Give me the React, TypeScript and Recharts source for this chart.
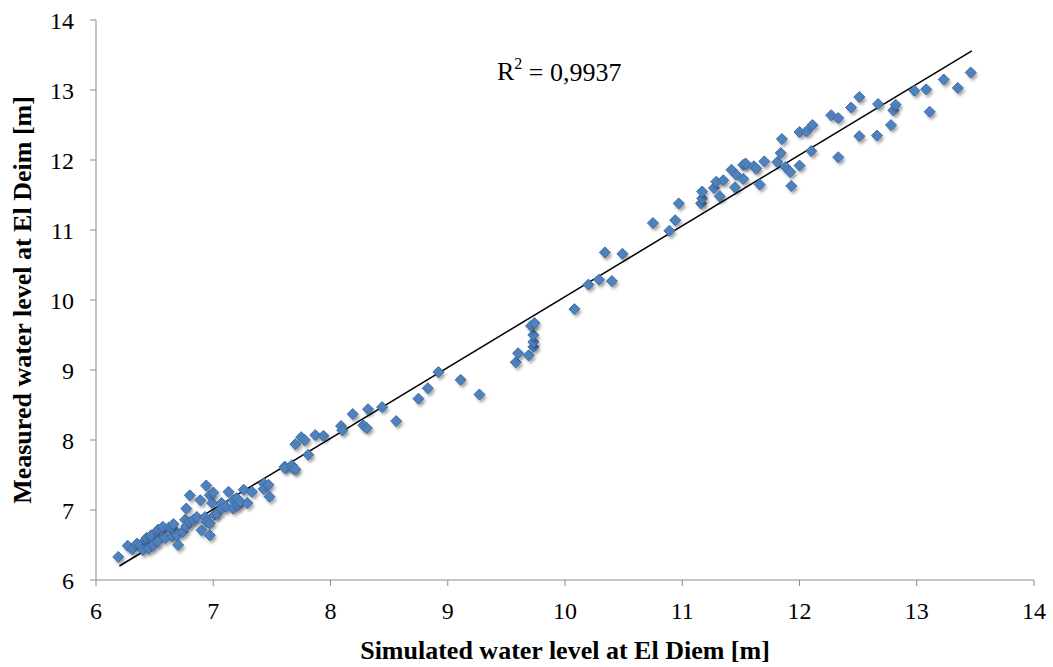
import { ScatterChart, Scatter, XAxis, YAxis, ReferenceLine, ReferenceDot } from 'recharts';

const simulated = [
  6.19, 6.27, 6.31, 6.35, 6.38, 6.40, 6.42, 6.43, 6.45, 6.46, 6.47, 6.49, 6.52, 6.53, 6.53, 6.56,
  6.57, 6.59, 6.62, 6.65, 6.65, 6.66, 6.69, 6.70, 6.74, 6.76, 6.77, 6.77, 6.80, 6.80, 6.83, 6.86,
  6.89, 6.90, 6.93, 6.94, 6.94, 6.97, 6.97, 6.97, 6.99, 7.00, 7.01, 7.03, 7.07, 7.07, 7.11, 7.13,
  7.17, 7.17, 7.20, 7.21, 7.23, 7.26, 7.29, 7.33, 7.43, 7.43, 7.47, 7.48, 7.61, 7.61, 7.67, 7.68,
  7.70, 7.70, 7.75, 7.78, 7.81, 7.87, 7.94, 8.09, 8.10, 8.19, 8.28, 8.31, 8.32, 8.44, 8.56, 8.75,
  8.83, 8.92, 9.11, 9.27, 9.58, 9.60, 9.69, 9.73, 9.73, 9.73, 9.71, 9.74, 10.08, 10.20, 10.29, 10.40,
  10.34, 10.49, 10.75, 10.89, 10.94, 10.97, 11.16, 11.17, 11.17, 11.27, 11.32, 11.29, 11.35, 11.42,
  11.46, 11.45, 11.52, 11.52, 11.54, 11.61, 11.63, 11.66, 11.70, 11.81, 11.84, 11.85, 11.88, 11.92,
  11.93, 12.00, 12.00, 12.06, 12.11, 12.10, 12.27, 12.33, 12.33, 12.44, 12.51, 12.51, 12.66, 12.67,
  12.78, 12.80, 12.82, 12.98, 13.08, 13.11, 13.23, 13.35, 13.46,
];
const measured = [
  6.33, 6.49, 6.44, 6.52, 6.50, 6.43, 6.57, 6.60, 6.45, 6.61, 6.64, 6.50, 6.69, 6.55, 6.72, 6.71,
  6.76, 6.60, 6.75, 6.62, 6.74, 6.80, 6.64, 6.50, 6.69, 6.86, 7.02, 6.77, 7.21, 6.83, 6.86, 6.90,
  7.14, 6.71, 6.90, 7.35, 6.83, 7.21, 6.64, 6.81, 7.10, 7.25, 6.93, 6.95, 7.10, 7.02, 7.05, 7.26,
  7.14, 7.02, 7.17, 7.07, 7.12, 7.29, 7.10, 7.26, 7.38, 7.30, 7.36, 7.19, 7.62, 7.60, 7.64, 7.60,
  7.58, 7.94, 8.04, 8.00, 7.79, 8.07, 8.06, 8.20, 8.14, 8.37, 8.21, 8.17, 8.44, 8.47, 8.27, 8.59,
  8.74, 8.97, 8.86, 8.65, 9.11, 9.24, 9.21, 9.33, 9.40, 9.50, 9.63, 9.67, 9.87, 10.22, 10.29, 10.27,
  10.68, 10.66, 11.10, 10.99, 11.14, 11.38, 11.38, 11.45, 11.55, 11.60, 11.48, 11.69, 11.71, 11.86,
  11.79, 11.61, 11.73, 11.93, 11.95, 11.91, 11.88, 11.65, 11.98, 11.97, 12.10, 12.30, 11.90, 11.83,
  11.63, 11.92, 12.40, 12.41, 12.50, 12.13, 12.64, 12.60, 12.04, 12.75, 12.90, 12.34, 12.35, 12.80,
  12.50, 12.71, 12.79, 12.99, 13.01, 12.69, 13.15, 13.03, 13.25,
];

// linear trendline end points
const trendX = [6.2, 13.47];
const trendY = [6.2, 13.56];

const axisTicks = [6, 7, 8, 9, 10, 11, 12, 13, 14];
const r2Text = '0,9937';

const points = simulated.map((x, i) => ({ x, y: measured[i] }));

const serif = '"Liberation Serif", "Times New Roman", serif';
const axisGray = '#8c8c8c';

const Diamond = (props: any) => {
  const { cx, cy } = props;
  if (cx == null || cy == null) return null;
  const s = 5.5;
  const pts = `${cx},${cy - s} ${cx + s},${cy} ${cx},${cy + s} ${cx - s},${cy}`;
  const shadow = `${cx + 2},${cy - s + 3} ${cx + s + 2},${cy + 3} ${cx + 2},${cy + s + 3} ${cx - s + 2},${cy + 3}`;
  return (
    <g>
      <polygon points={shadow} fill="rgba(0,0,0,0.35)" filter="url(#markerShadow)" />
      <polygon points={pts} fill="#4f81bd" stroke="#3d6ea8" strokeWidth={1} />
    </g>
  );
};

const YTitle = (props: any) => {
  const { viewBox } = props;
  const cy = viewBox.y + viewBox.height / 2;
  return (
    <text
      x={22}
      y={cy}
      transform={`rotate(-90, 22, ${cy})`}
      textAnchor="middle"
      dominantBaseline="central"
      fontFamily={serif}
      fontWeight="bold"
      fontSize={26}
      fill="#000"
    >
      Measured water level at El Deim [m]
    </text>
  );
};

const R2Label = (props: any) => {
  const { viewBox } = props;
  const x = viewBox.x;
  const y = viewBox.y;
  return (
    <text x={x} y={y} fontFamily={serif} fontSize={26} fill="#000" dominantBaseline="central">
      R
      <tspan dy={-9} fontSize={16}>2</tspan>
      <tspan dy={9}>{` = ${r2Text}`}</tspan>
    </text>
  );
};

export default function App() {
  return (
    <div style={{ position: 'absolute', left: 0, top: 0, width: 1053, height: 667, background: '#fff' }}>
      <svg width={0} height={0} style={{ position: 'absolute' }}>
        <defs>
          <filter id="markerShadow" x="-50%" y="-50%" width="200%" height="200%">
            <feGaussianBlur stdDeviation="1.5" />
          </filter>
        </defs>
      </svg>
      <ScatterChart width={1053} height={667} margin={{ top: 20, right: 19, bottom: 57, left: 0 }}>
        <XAxis
          type="number"
          dataKey="x"
          height={30}
          domain={[6, 14]}
          ticks={axisTicks}
          allowDataOverflow
          stroke={axisGray}
          tickSize={6}
          tickMargin={16}
          tick={{ fill: '#000', fontFamily: serif, fontSize: 24 }}
          label={{
            value: 'Simulated water level at El Diem [m]',
            position: 'bottom',
            offset: 31,
            fill: '#000',
            fontFamily: serif,
            fontWeight: 'bold',
            fontSize: 26,
          }}
        />
        <YAxis
          type="number"
          dataKey="y"
          width={96}
          domain={[6, 14]}
          ticks={axisTicks}
          allowDataOverflow
          stroke={axisGray}
          tickSize={6}
          tickMargin={16}
          tick={{ fill: '#000', fontFamily: serif, fontSize: 24 }}
          label={<YTitle />}
        />
        <ReferenceLine
          segment={[
            { x: trendX[0], y: trendY[0] },
            { x: trendX[1], y: trendY[1] },
          ]}
          stroke="#000"
          strokeWidth={1.5}
          ifOverflow="visible"
        />
        <Scatter data={points} shape={<Diamond />} isAnimationActive={false} />
        <ReferenceDot x={9.42} y={13.26} r={0} fill="none" stroke="none" label={<R2Label />} />
      </ScatterChart>
    </div>
  );
}
